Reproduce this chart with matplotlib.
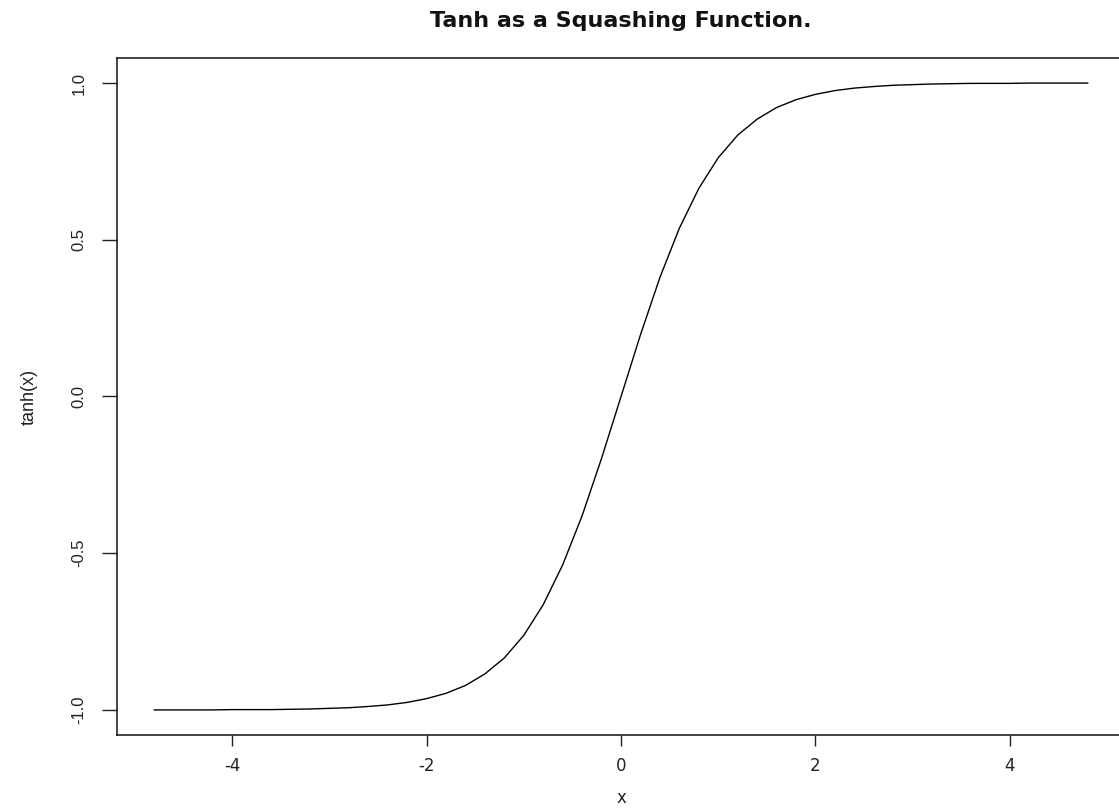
import matplotlib
matplotlib.use("Agg")
import matplotlib.pyplot as plt

plt.rcParams['font.family'] = ['Liberation Sans', 'DejaVu Sans']

# sample points of the curve
xVals = [-4.8, -4.6, -4.4, -4.2, -4.0, -3.8, -3.6, -3.4, -3.2, -3.0, -2.8, -2.6, -2.4,
         -2.2, -2.0, -1.8, -1.6, -1.4, -1.2, -1.0, -0.8, -0.6, -0.4, -0.2, 0.0,
         0.2, 0.4, 0.6, 0.8, 1.0, 1.2, 1.4, 1.6, 1.8, 2.0, 2.2, 2.4, 2.6, 2.8,
         3.0, 3.2, 3.4, 3.6, 3.8, 4.0, 4.2, 4.4, 4.6, 4.8]
yVals = [-1.000, -1.000, -1.000, -1.000, -0.999, -0.999, -0.999, -0.998, -0.997, -0.995,
         -0.993, -0.989, -0.984, -0.976, -0.964, -0.947, -0.922, -0.885, -0.834, -0.762,
         -0.664, -0.537, -0.380, -0.197, 0.000,
         0.197, 0.380, 0.537, 0.664, 0.762, 0.834, 0.885, 0.922, 0.947, 0.964,
         0.976, 0.984, 0.989, 0.993, 0.995, 0.997, 0.998, 0.999, 0.999, 0.999,
         1.000, 1.000, 1.000, 1.000]
xTicks = [-4, -2, 0, 2, 4]
yTicks = [-1.0, -0.5, 0.0, 0.5, 1.0]
yTickLabels = ["-1.0", "-0.5", "0.0", "0.5", "1.0"]

fig = plt.figure(figsize=(11.19, 8.10), dpi=100)
ax = fig.add_axes([0.1046, 0.0926, 0.9008, 0.8358])

ax.plot(xVals, yVals, color="black", linewidth=1.0)

# R style 4% padding
xr = xVals[-1] - xVals[0]
ax.set_xlim(xVals[0] - 0.04 * xr, xVals[-1] + 0.04 * xr)
ax.set_ylim(-1.08, 1.08)

ax.set_xticks(xTicks)
ax.set_xticklabels([str(t) for t in xTicks], family="DejaVu Sans")
ax.set_yticks(yTicks)
ax.set_yticklabels(yTickLabels, rotation=90, va="center")
ax.tick_params(axis="both", direction="out", width=1.0, labelsize=12, colors="#222222")
ax.tick_params(axis="x", length=8, pad=8)
ax.tick_params(axis="y", length=11, pad=11)

for s in ax.spines.values():
    s.set_linewidth(1.1)
    s.set_color("#111111")

ax.set_xlabel("x", fontsize=12, labelpad=10, color="#222222", family="DejaVu Sans")
ax.set_ylabel("tanh(x)", fontsize=13, labelpad=24, color="#222222")
fig.text(0.555, 0.974, "Tanh as a Squashing Function.", ha="center", va="center",
         fontsize=16, fontweight="bold", family="DejaVu Sans", color="#111111")

fig.savefig("out.png", dpi=100)
